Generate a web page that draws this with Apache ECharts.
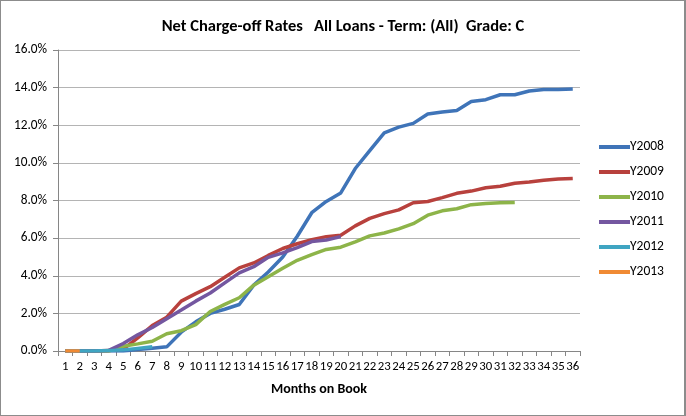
<!DOCTYPE html>
<html>
<head>
<meta charset="utf-8">
<script src="https://cdn.jsdelivr.net/npm/echarts@6/dist/echarts.min.js"></script>
<style>
html,body{margin:0;padding:0;background:#fff;}
#wrap{width:686px;height:416px;box-sizing:border-box;border:1px solid #8c8c8c;border-right:2px solid #8c8c8c;position:relative;}
#chart{position:absolute;left:-1px;top:-1px;width:686px;height:416px;}
</style>
</head>
<body>
<div id="wrap"><div id="chart"></div></div>
<script>
const months = Array.from({length:36},(_,i)=>String(i+1));
const yTicks = [0,2,4,6,8,10,12,14,16];
const seriesNames = ['Y2008','Y2009','Y2010','Y2011','Y2012','Y2013'];
const y2008 = [0,0,0,0,0,0.08,0.15,0.22,1.0,1.55,2.0,2.22,2.47,3.5,4.2,5.0,6.1,7.35,7.95,8.4,9.7,10.65,11.6,11.9,12.1,12.6,12.7,12.78,13.26,13.36,13.62,13.62,13.82,13.9,13.9,13.93];
const y2009 = [0,0,0,0.02,0.1,0.7,1.35,1.8,2.65,3.05,3.42,3.92,4.42,4.68,5.08,5.45,5.7,5.92,6.08,6.15,6.65,7.05,7.3,7.5,7.88,7.95,8.15,8.38,8.5,8.68,8.76,8.92,8.98,9.08,9.14,9.17];
const y2010 = [0,0,0,0,0.25,0.38,0.52,0.92,1.08,1.4,2.1,2.48,2.83,3.5,3.95,4.4,4.82,5.12,5.4,5.52,5.8,6.12,6.27,6.49,6.77,7.22,7.45,7.56,7.78,7.84,7.88,7.9];
const y2011 = [0,0,0,0.03,0.4,0.86,1.25,1.72,2.18,2.65,3.08,3.62,4.15,4.48,4.98,5.22,5.5,5.82,5.9,6.08];
const y2012 = [0,0,0,0.02,0.06,0.14,0.22];
const y2013 = [0,0];
const colors = ['#3F74B8','#B8413D','#8DB449','#7457A0','#3FA5C2','#F08A34'];

const dataList = [y2008,y2009,y2010,y2011,y2012,y2013];
const font = 'Carlito, Lato, "Open Sans", sans-serif';
const chart = echarts.init(document.getElementById('chart'));
chart.setOption({
  animation:false,
  backgroundColor:'transparent',
  color:colors,
  title:{
    text:'Net Charge-off Rates   All Loans - Term: (All)  Grade: C',
    left:'center', top:13,
    textStyle:{fontFamily:font,fontWeight:'bold',fontSize:16.5,color:'#000'}
  },
  legend:{
    orient:'vertical', left:594, top:135,
    itemWidth:31, itemHeight:4, itemGap:11,
    icon:'rect',
    data:seriesNames,
    textStyle:{fontFamily:font,fontSize:13.5,color:'#000',padding:[0,0,0,-5]}
  },
  grid:{left:58,right:106,top:50,bottom:65},
  xAxis:{
    type:'category', data:months, boundaryGap:true,
    name:'Months on Book', nameLocation:'middle', nameGap:31,
    nameTextStyle:{fontFamily:font,fontWeight:'bold',fontSize:14,color:'#000'},
    axisLine:{lineStyle:{color:'#868686'}},
    axisTick:{show:true,length:5,lineStyle:{color:'#868686'}},
    axisLabel:{interval:0,margin:9,fontFamily:font,fontSize:12.8,color:'#000'}
  },
  yAxis:{
    type:'value', min:yTicks[0], max:yTicks[yTicks.length-1], interval:2,
    axisLine:{show:true,lineStyle:{color:'#868686'}},
    axisTick:{show:true,length:5,lineStyle:{color:'#868686'}},
    splitLine:{lineStyle:{color:'#b4b4b4'}},
    axisLabel:{margin:11,fontFamily:font,fontSize:13.3,color:'#000',formatter:v=>v.toFixed(1)+'%'}
  },
  series:seriesNames.map((n,i)=>({
    name:n, type:'line', data:dataList[i], showSymbol:false, symbol:'none',
    lineStyle:{width:3.5,color:colors[i]}, itemStyle:{color:colors[i]}
  }))
});
</script>
</body>
</html>
